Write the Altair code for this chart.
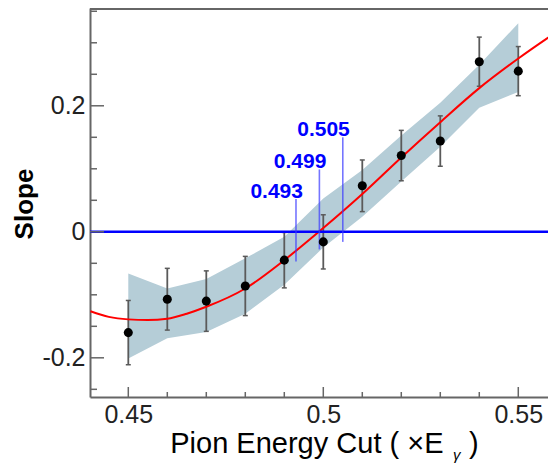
import altair as alt
import pandas as pd

# ---- data ----
pt_x = [0.45, 0.46, 0.47, 0.48, 0.49, 0.50, 0.51, 0.52, 0.53, 0.54, 0.55]
pt_y = [-0.160, -0.107, -0.110, -0.086, -0.045, -0.016, 0.073, 0.121, 0.144, 0.270, 0.255]
pt_err = [0.051, 0.049, 0.048, 0.047, 0.044, 0.043, 0.041, 0.040, 0.040, 0.039, 0.039]

band_hi = [-0.066, -0.090, -0.075, -0.042, -0.008, 0.053, 0.098, 0.153, 0.205, 0.265, 0.331]
band_lo = [-0.201, -0.169, -0.159, -0.130, -0.084, -0.025, 0.024, 0.080, 0.135, 0.197, 0.222]

fit_x = [0.4403, 0.445, 0.45, 0.455, 0.46, 0.465, 0.47, 0.48, 0.49, 0.50, 0.51, 0.52, 0.53, 0.54, 0.55, 0.56]
fit_y = [-0.126, -0.135, -0.139, -0.140, -0.138, -0.130, -0.119, -0.090, -0.045, 0.006, 0.060, 0.118, 0.174, 0.228, 0.275, 0.318]

cut_x = [0.493, 0.499, 0.505]
cut_lo = [-0.047, -0.028, -0.016]
cut_hi = [0.052, 0.099, 0.150]
cut_label = ["0.493", "0.499", "0.505"]

x_major = [0.45, 0.50, 0.55]
x_minor = [0.46, 0.47, 0.48, 0.49, 0.51, 0.52, 0.53, 0.54]
y_major = [-0.2, 0.0, 0.2]
y_minor = [-0.25, -0.15, -0.10, -0.05, 0.05, 0.10, 0.15, 0.25, 0.30, 0.35]

# ---- layout ----
W, H = 458, 389
XDOM = [0.44018, 0.55762]
YDOM = [-0.2622, 0.3552]
FONT = "Liberation Sans"
AXC = "#666666"

xs = alt.Scale(domain=XDOM, nice=False, zero=False)
ys = alt.Scale(domain=YDOM, nice=False, zero=False)

pts = pd.DataFrame({"x": pt_x, "y": pt_y, "err": pt_err})
pts["lo"] = pts["y"] - pts["err"]
pts["hi"] = pts["y"] + pts["err"]
band = pd.DataFrame({"x": pt_x, "lo": band_lo, "hi": band_hi})
fit = pd.DataFrame({"x": fit_x, "y": fit_y})
cuts = pd.DataFrame({"x": cut_x, "lo": cut_lo, "hi": cut_hi, "label": cut_label})
zero = pd.DataFrame({"y": [0.0]})
xmaj = pd.DataFrame({"x": x_major})
xmin = pd.DataFrame({"x": x_minor})
ymaj = pd.DataFrame({"y": y_major})
ymin = pd.DataFrame({"y": y_minor})
one = pd.DataFrame({"k": [0]})

x_axis = alt.Axis(values=x_major, format="~g", ticks=False, tickSize=0, labelPadding=5,
                  labelFontSize=25, labelFont=FONT, labelColor="#222222", labelOverlap=False,
                  domainColor=AXC, domainWidth=2, title=None, grid=False, labelFlush=False)
y_axis = alt.Axis(values=y_major,
                  labelExpr="datum.value == 0 ? '0' : (datum.value < 0 ? '-' : '') + format(abs(datum.value), '.1f')",
                  ticks=False, tickSize=0, labelPadding=5, labelFontSize=25, labelFont=FONT,
                  labelColor="#222222", labelOverlap=False, domainColor=AXC, domainWidth=2,
                  title=None, grid=False, labelFlush=False)


def X(f):
    return alt.X(f, scale=xs, axis=x_axis, title=None)


def Y(f):
    return alt.Y(f, scale=ys, axis=y_axis, title=None)


band_l = alt.Chart(band).mark_area(color="#b5cdd7", opacity=1).encode(
    x=X("x:Q"), y=Y("lo:Q"), y2="hi:Q")

err_l = alt.Chart(pts).mark_rule(color="#5a5a5a", strokeWidth=1.8).encode(
    x=X("x:Q"), y=Y("lo:Q"), y2="hi:Q")
cap_lo = alt.Chart(pts).mark_rule(color="#5a5a5a", strokeWidth=1.5, xOffset=-2.5, x2Offset=2.5).encode(
    x=X("x:Q"), x2="x:Q", y=Y("lo:Q"))
cap_hi = alt.Chart(pts).mark_rule(color="#5a5a5a", strokeWidth=1.5, xOffset=-2.5, x2Offset=2.5).encode(
    x=X("x:Q"), x2="x:Q", y=Y("hi:Q"))

fit_l = alt.Chart(fit).mark_line(color="#ff0000", strokeWidth=2, interpolate="monotone", clip=True).encode(
    x=X("x:Q"), y=Y("y:Q"))

zero_l = alt.Chart(zero).mark_rule(color="#0000ff", strokeWidth=2.5).encode(
    y=Y("y:Q"), x=alt.value(0), x2=alt.value(W))

cut_l = alt.Chart(cuts).mark_rule(color="#3a3aff", opacity=0.7, strokeWidth=1.6).encode(
    x=X("x:Q"), y=Y("lo:Q"), y2="hi:Q")
cut_t = alt.Chart(cuts).mark_text(align="right", baseline="alphabetic", dx=7, dy=-1,
                                  font=FONT, fontSize=21, fontWeight="bold", color="#0000ff").encode(
    x=X("x:Q"), y=Y("hi:Q"), text="label:N")

pts_l = alt.Chart(pts).mark_circle(color="#000000", opacity=1, size=82).encode(
    x=X("x:Q"), y=Y("y:Q"))

# axis ticks (inward) drawn through the scales
xt_maj = alt.Chart(xmaj).mark_rule(color=AXC, strokeWidth=1.5).encode(
    x=X("x:Q"), y=alt.value(H), y2=alt.value(H - 10))
xt_min = alt.Chart(xmin).mark_rule(color=AXC, strokeWidth=1.5).encode(
    x=X("x:Q"), y=alt.value(H), y2=alt.value(H - 5))
yt_maj = alt.Chart(ymaj).mark_rule(color=AXC, strokeWidth=1.5).encode(
    y=Y("y:Q"), x=alt.value(0), x2=alt.value(14))
yt_min = alt.Chart(ymin).mark_rule(color=AXC, strokeWidth=1.5).encode(
    y=Y("y:Q"), x=alt.value(0), x2=alt.value(7))

top_border = alt.Chart(one).mark_rule(color=AXC, strokeWidth=2).encode(
    y=alt.value(1), x=alt.value(0), x2=alt.value(W))

# titles
xt_main = alt.Chart(one).mark_text(text="Pion Energy Cut ( ×E", align="right", baseline="alphabetic",
                                   font=FONT, fontSize=29, color="#000000").encode(
    x=alt.value(353.5), y=alt.value(445.3))
xt_sub = alt.Chart(one).mark_text(text="γ", align="left", baseline="alphabetic",
                                  font=FONT, fontSize=15, fontStyle="italic", color="#000000").encode(
    x=alt.value(363), y=alt.value(452))
xt_par = alt.Chart(one).mark_text(text=")", align="left", baseline="alphabetic",
                                  font=FONT, fontSize=29, color="#000000").encode(
    x=alt.value(379), y=alt.value(445.3))
yt_title = alt.Chart(one).mark_text(text="Slope", align="center", baseline="alphabetic", angle=270,
                                    font=FONT, fontSize=26, fontWeight="bold", color="#000000").encode(
    x=alt.value(-57), y=alt.value(196))

chart = alt.layer(
    band_l, err_l, cap_lo, cap_hi, fit_l, zero_l, cut_l, pts_l, cut_t,
    xt_maj, xt_min, yt_maj, yt_min, top_border,
    xt_main, xt_sub, xt_par, yt_title,
).properties(
    width=W, height=H,
    autosize=alt.AutoSizeParams(type="none"),
    padding={"left": 82, "top": 0, "right": 0, "bottom": 67},
).configure_view(stroke=None).configure_axis(grid=False)

chart.save("out.html", embed_options={"renderer": "svg", "actions": False})
